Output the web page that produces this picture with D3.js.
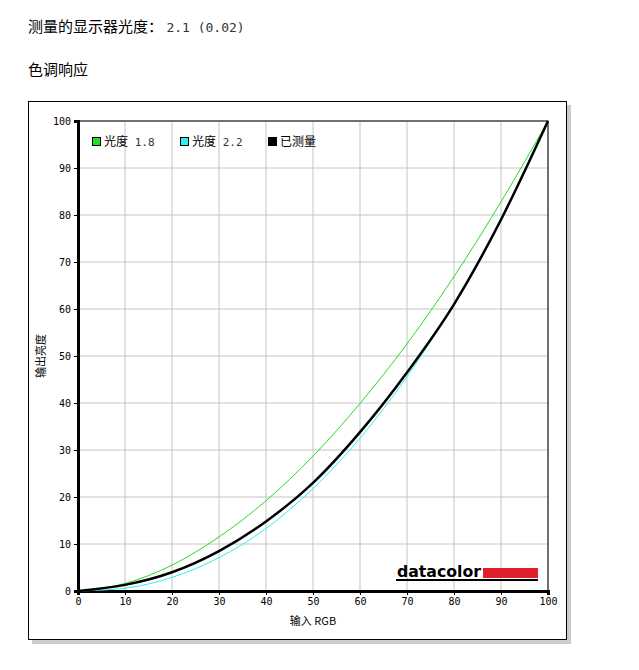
<!DOCTYPE html><html><head><meta charset="utf-8"><script src="https://cdn.jsdelivr.net/npm/d3@7"></script>
<style>body{margin:0;background:#fff;font-family:"Noto Sans CJK SC",sans-serif}</style></head><body><svg id="c" width="639" height="670"></svg>
<script>
const xs=[0,10,20,30,40,50,60,70,80,90,100];
const gamma18=[0,1.6,5.5,11.5,19.2,28.7,39.9,52.6,66.9,82.8,100];
const gamma22=[0,0.6,2.9,7.1,13.3,21.8,32.5,45.6,61.2,79.3,100];
const measured=[0,1.3,4.0,8.5,14.8,23.0,33.8,46.5,61.0,79.0,100];
const ticks=[0,10,20,30,40,50,60,70,80,90,100];
const legendNames=["光度","光度","已测量"];
const legendNums=["1.8","2.2",""];
const colors=["#22dd22","#33eeee","#000"];
const svg=d3.select("#c");
const t1=svg.append("text").attr("x",28).attr("y",32).attr("font-size",15);
t1.append("tspan").text("测量的显示器光度： ");
t1.append("tspan").attr("font-family","DejaVu Sans Mono").attr("font-size",13).attr("fill","#333").text(" 2.1 (0.02)");
svg.append("text").attr("x",28).attr("y",75).attr("font-size",15).text("色调响应");
svg.append("rect").attr("x",32).attr("y",105).attr("width",539).attr("height",539).attr("fill","#ccc");
svg.append("rect").attr("x",28.5).attr("y",101.5).attr("width",538).attr("height",538).attr("fill","#fff").attr("stroke","#000");
const x=d3.scaleLinear().domain([0,100]).range([78,548]);
const y=d3.scaleLinear().domain([0,100]).range([591,121]);
const g=svg.append("g");
ticks.forEach(t=>{
 g.append("line").attr("x1",x(t)).attr("x2",x(t)).attr("y1",y(0)).attr("y2",y(100)).attr("stroke","#c4c4c4");
 g.append("line").attr("x1",x(0)).attr("x2",x(100)).attr("y1",y(t)).attr("y2",y(t)).attr("stroke","#c4c4c4");
});
g.append("rect").attr("x",x(0)).attr("y",y(100)).attr("width",x(100)-x(0)).attr("height",y(0)-y(100)).attr("fill","none").attr("stroke","#000");
const ax=svg.append("g").attr("transform",`translate(0,${y(0)})`).call(d3.axisBottom(x).tickValues(ticks).tickSize(4));
const ay=svg.append("g").attr("transform",`translate(${x(0)},0)`).call(d3.axisLeft(y).tickValues(ticks).tickSize(4));
[ax,ay].forEach(a=>{a.select(".domain").attr("stroke-width",3);a.selectAll("text").attr("font-family","DejaVu Sans Mono").attr("font-size",10).attr("fill","#000");});
const line=d3.line().x((d,i)=>x(xs[i])).y(d=>y(d)).curve(d3.curveMonotoneX);
[[gamma18,colors[0],1],[gamma22,colors[1],1],[measured,colors[2],2.5]].forEach(([d,c,w])=>svg.append("path").attr("d",line(d)).attr("fill","none").attr("stroke",c).attr("stroke-width",w));
const lx=[92,180,268];
legendNames.forEach((n,i)=>{
 svg.append("rect").attr("x",lx[i]+0.5).attr("y",137.5).attr("width",8).attr("height",8).attr("fill",colors[i]).attr("stroke","#000");
 const t=svg.append("text").attr("x",lx[i]+12).attr("y",146).attr("font-size",12);
 t.append("tspan").text(n);
 if(legendNums[i]) t.append("tspan").attr("font-family","DejaVu Sans Mono").attr("font-size",11).attr("fill","#333").text(" "+legendNums[i]);
});
svg.append("text").attr("x",x(50)).attr("y",625).attr("text-anchor","middle").attr("font-size",11).text("输入 RGB");
svg.append("text").attr("transform",`translate(45,${y(50)}) rotate(-90)`).attr("text-anchor","middle").attr("font-size",11).text("输出亮度");
svg.append("text").attr("x",397).attr("y",577).attr("font-family","DejaVu Sans").attr("font-weight","bold").attr("font-size",16).attr("textLength",84).attr("lengthAdjust","spacingAndGlyphs").text("datacolor");
svg.append("rect").attr("x",483).attr("y",568).attr("width",55).attr("height",10).attr("fill","#e0202a");
svg.append("rect").attr("x",396).attr("y",579).attr("width",142).attr("height",2).attr("fill","#000");
</script></body></html>
